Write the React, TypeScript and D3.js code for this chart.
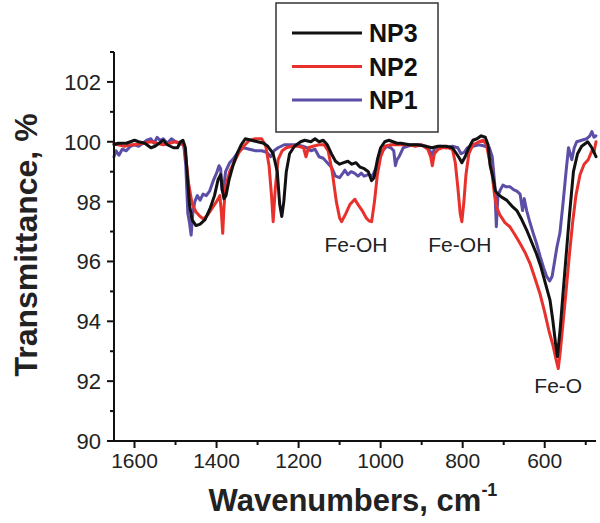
import React from "react";
import * as d3 from "d3";

const seriesNames = ["NP3", "NP2", "NP1"];
const seriesColors = ["#111111", "#e8302c", "#5a4ea6"];

const np3: [number, number][] = [
  [1650, 99.9], [1640, 99.95], [1620, 99.95], [1600, 100.05], [1590, 100.0], [1575, 99.95], [1560, 99.8], [1550, 99.85],
  [1540, 99.95], [1530, 100.05], [1520, 99.9], [1505, 99.8], [1495, 99.8], [1488, 100.0], [1482, 100.05], [1476, 99.8],
  [1472, 99.0], [1466, 97.9], [1460, 97.4], [1450, 97.2], [1440, 97.25], [1428, 97.4], [1415, 97.8], [1405, 98.2],
  [1396, 98.75], [1390, 98.9], [1386, 98.4], [1382, 98.1], [1377, 98.2], [1370, 98.7], [1360, 99.2], [1350, 99.6],
  [1340, 99.9], [1330, 100.1], [1315, 100.05], [1300, 100.0], [1285, 99.95], [1275, 99.85], [1262, 99.6], [1252, 99.0],
  [1246, 97.9], [1241, 97.5], [1236, 98.0], [1230, 99.0], [1222, 99.6], [1210, 99.85], [1195, 100.0], [1185, 100.05],
  [1170, 100.0], [1160, 100.1], [1150, 100.0], [1140, 100.05], [1130, 99.9], [1120, 99.6], [1110, 99.35], [1100, 99.25],
  [1090, 99.3], [1080, 99.35], [1070, 99.25], [1060, 99.3], [1050, 99.15], [1040, 99.1], [1030, 99.0], [1022, 98.7],
  [1016, 98.8], [1008, 99.4], [1000, 99.8], [990, 100.0], [980, 100.05], [970, 100.0], [960, 99.95], [950, 99.95],
  [930, 99.9], [910, 99.9], [890, 99.85], [875, 99.8], [860, 99.85], [840, 99.85], [825, 99.8], [815, 99.6],
  [808, 99.45], [802, 99.3], [794, 99.5], [785, 99.8], [775, 100.05], [765, 100.1], [755, 100.2], [745, 100.15],
  [738, 99.9], [733, 99.2], [726, 98.8], [720, 98.35], [714, 98.25], [705, 98.15], [693, 98.05], [680, 97.85],
  [668, 97.7], [656, 97.4], [644, 97.05], [632, 96.65], [620, 96.25], [610, 95.85], [603, 95.5], [595, 95.1],
  [587, 94.7], [580, 94.0], [574, 93.3], [569, 92.82], [562, 93.8], [555, 95.0], [546, 96.5], [540, 97.5],
  [530, 99.0], [520, 99.6], [510, 99.85], [495, 100.0], [485, 99.8], [475, 99.5],
];

const np2: [number, number][] = [
  [1650, 99.95], [1640, 99.9], [1625, 99.85], [1610, 99.9], [1600, 99.9], [1580, 99.95], [1560, 100.0], [1545, 99.95],
  [1530, 99.9], [1515, 99.95], [1500, 100.0], [1490, 99.95], [1480, 99.9], [1475, 99.5], [1468, 98.6], [1460, 97.95],
  [1450, 97.65], [1440, 97.5], [1432, 97.42], [1422, 97.55], [1410, 97.8], [1400, 98.0], [1392, 98.2], [1388, 97.6],
  [1385, 96.94], [1382, 97.8], [1378, 98.5], [1368, 99.0], [1358, 99.3], [1345, 99.65], [1334, 99.85], [1320, 100.05],
  [1305, 100.1], [1290, 100.1], [1280, 99.85], [1272, 99.2], [1266, 98.2], [1262, 97.33], [1257, 98.4], [1250, 99.4],
  [1240, 99.7], [1230, 99.8], [1215, 99.85], [1200, 99.85], [1188, 99.8], [1182, 99.5], [1176, 99.8], [1165, 99.85],
  [1150, 99.9], [1138, 99.9], [1128, 99.7], [1118, 99.0], [1108, 98.0], [1100, 97.45], [1095, 97.33], [1085, 97.6],
  [1075, 97.9], [1063, 98.08], [1055, 97.9], [1045, 97.7], [1035, 97.45], [1028, 97.35], [1022, 97.33], [1015, 98.0],
  [1008, 98.9], [1000, 99.5], [990, 99.85], [975, 99.9], [960, 99.9], [945, 99.9], [930, 99.9], [915, 99.85],
  [900, 99.9], [885, 99.75], [878, 99.5], [874, 99.2], [869, 99.6], [860, 99.75], [850, 99.8], [835, 99.8],
  [825, 99.75], [818, 99.3], [812, 98.5], [806, 97.6], [802, 97.33], [797, 98.0], [792, 98.9], [785, 99.6],
  [775, 99.9], [760, 100.0], [750, 100.05], [742, 99.9], [735, 99.4], [729, 99.0], [723, 98.3], [717, 97.8],
  [709, 97.55], [697, 97.3], [685, 97.16], [673, 96.9], [660, 96.6], [648, 96.3], [636, 95.94], [624, 95.45],
  [612, 94.94], [600, 94.3], [590, 93.7], [580, 93.2], [572, 92.7], [567, 92.42], [562, 93.0], [555, 94.0],
  [548, 95.0], [540, 96.2], [532, 97.3], [524, 98.2], [514, 98.9], [504, 99.25], [494, 99.4], [485, 99.7],
  [480, 99.65], [475, 100.0],
];

const np1: [number, number][] = [
  [1650, 99.5], [1645, 99.7], [1638, 99.55], [1630, 99.75], [1620, 99.7], [1610, 99.85], [1600, 99.9], [1590, 99.85],
  [1580, 99.95], [1570, 100.05], [1560, 100.1], [1552, 99.95], [1545, 100.15], [1538, 100.05], [1530, 100.1], [1520, 99.95],
  [1510, 100.1], [1500, 100.0], [1490, 99.95], [1480, 99.9], [1475, 99.2], [1470, 97.6], [1466, 97.3], [1462, 96.88],
  [1458, 97.6], [1453, 98.0], [1447, 98.2], [1440, 98.05], [1433, 98.25], [1425, 98.2], [1417, 98.35], [1408, 98.7],
  [1400, 98.95], [1394, 99.2], [1390, 99.1], [1387, 98.4], [1384, 98.3], [1378, 99.0], [1368, 99.3], [1358, 99.45],
  [1345, 99.7], [1334, 99.8], [1320, 99.75], [1305, 99.7], [1290, 99.7], [1278, 99.65], [1268, 99.5], [1260, 99.7],
  [1250, 99.8], [1235, 99.9], [1220, 99.9], [1205, 99.9], [1190, 99.85], [1180, 99.8], [1170, 99.7], [1160, 99.75],
  [1150, 99.5], [1140, 99.45], [1130, 99.3], [1120, 99.15], [1110, 98.85], [1100, 98.8], [1092, 98.95], [1087, 99.05],
  [1080, 98.9], [1072, 99.0], [1064, 98.95], [1055, 98.85], [1047, 98.95], [1040, 98.85], [1030, 98.9], [1020, 98.85],
  [1012, 99.1], [1004, 99.4], [995, 99.7], [985, 99.85], [975, 99.8], [968, 99.7], [964, 99.2], [960, 99.4],
  [955, 99.5], [945, 99.8], [935, 99.85], [920, 99.9], [905, 99.9], [890, 99.85], [880, 99.7], [874, 99.55],
  [868, 99.8], [855, 99.85], [840, 99.8], [825, 99.85], [812, 99.8], [804, 99.6], [796, 99.65], [788, 99.8],
  [775, 99.85], [760, 99.9], [745, 99.85], [735, 99.8], [728, 99.5], [722, 98.6], [718, 97.16], [714, 98.2],
  [708, 98.4], [702, 98.55], [695, 98.5], [685, 98.5], [676, 98.4], [668, 98.35], [660, 98.25], [654, 97.7],
  [650, 98.1], [644, 97.7], [636, 97.3], [628, 96.94], [620, 96.6], [611, 96.16], [603, 95.8], [595, 95.49],
  [588, 95.35], [582, 95.5], [576, 96.0], [570, 96.5], [563, 96.95], [555, 98.0], [548, 99.0], [542, 99.8],
  [538, 99.6], [534, 99.4], [528, 99.8], [522, 100.0], [510, 100.05], [498, 100.1], [490, 100.2], [485, 100.34],
  [480, 100.15], [475, 100.2],
];

const seriesData = [np3, np2, np1];

const xMajorTicks = [1600, 1400, 1200, 1000, 800, 600];
const xMinorTicks = [1500, 1300, 1100, 900, 700, 500];
const yMajorTicks = [90, 92, 94, 96, 98, 100, 102];
const yMinorTicks = [91, 93, 95, 97, 99, 101, 103];

const annotations = [
  { label: "Fe-OH", wn: 1060, t: 96.3 },
  { label: "Fe-OH", wn: 807, t: 96.3 },
  { label: "Fe-O", wn: 567, t: 91.6 },
];

const FONT = "'Liberation Sans', Arial, Helvetica, sans-serif";

export default function App() {
  const W = 600;
  const H = 523;
  const x = d3.scaleLinear().domain([1650, 475]).range([114, 596]);
  const y = d3.scaleLinear().domain([90, 103]).range([441, 52]);
  const line = d3
    .line<[number, number]>()
    .x((d) => x(d[0]))
    .y((d) => y(d[1]))
    .curve(d3.curveLinear);

  const x0 = x.range()[0];
  const y0 = y.range()[0];

  return (
    <svg
      width={W}
      height={H}
      style={{ position: "absolute", left: 0, top: 0, background: "#fff" }}
      fontFamily={FONT}
    >
      <rect x={0} y={0} width={W} height={H} fill="#fff" />
      {[2, 1, 0].map((i) => (
        <path
          key={seriesNames[i]}
          d={line(seriesData[i]) || ""}
          fill="none"
          stroke={seriesColors[i]}
          strokeWidth={3}
          strokeLinejoin="round"
          strokeLinecap="round"
        />
      ))}
      <line x1={x0} x2={x0} y1={y(103)} y2={y0 + 1} stroke="#111" strokeWidth={2} />
      <line x1={x0 - 1} x2={x.range()[1]} y1={y0} y2={y0} stroke="#111" strokeWidth={2} />
      {yMajorTicks.map((t) => (
        <g key={"ym" + t}>
          <line x1={x0 - 7} x2={x0} y1={y(t)} y2={y(t)} stroke="#111" strokeWidth={2} />
          <text x={101} y={y(t)} dy="0.36em" textAnchor="end" fontSize={22} fill="#222">
            {t}
          </text>
        </g>
      ))}
      {yMinorTicks.map((t) => (
        <line key={"yn" + t} x1={x0 - 4} x2={x0} y1={y(t)} y2={y(t)} stroke="#111" strokeWidth={2} />
      ))}
      {xMajorTicks.map((t) => (
        <g key={"xm" + t}>
          <line x1={x(t)} x2={x(t)} y1={y0} y2={y0 + 7} stroke="#111" strokeWidth={2} />
          <text x={x(t)} y={468} textAnchor="middle" fontSize={21} fill="#222">
            {t}
          </text>
        </g>
      ))}
      {xMinorTicks.map((t) => (
        <line key={"xn" + t} x1={x(t)} x2={x(t)} y1={y0} y2={y0 + 4} stroke="#111" strokeWidth={2} />
      ))}
      <text x={353} y={511} textAnchor="middle" fontSize={31} fontWeight="bold" fill="#222">
        Wavenumbers, cm
        <tspan fontSize={18} dy={-15}>-1</tspan>
      </text>
      <text
        transform={`translate(37,245) rotate(-90)`}
        textAnchor="middle"
        fontSize={32}
        fontWeight="bold"
        fill="#222"
      >
        Transmittance, %
      </text>
      {annotations.map((a, i) => (
        <text key={"an" + i} x={x(a.wn)} y={y(a.t)} textAnchor="middle" fontSize={21} fill="#222">
          {a.label}
        </text>
      ))}
      <rect x={276} y={3} width={162} height={129} fill="#fff" stroke="#333" strokeWidth={1.5} />
      {seriesNames.map((n, i) => (
        <g key={"lg" + n}>
          <line x1={292} x2={362} y1={33 + i * 33.5} y2={33 + i * 33.5} stroke={seriesColors[i]} strokeWidth={3} />
          <text x={369} y={33 + i * 33.5} dy="0.36em" fontSize={25} fontWeight="bold" fill="#111">
            {n}
          </text>
        </g>
      ))}
    </svg>
  );
}
